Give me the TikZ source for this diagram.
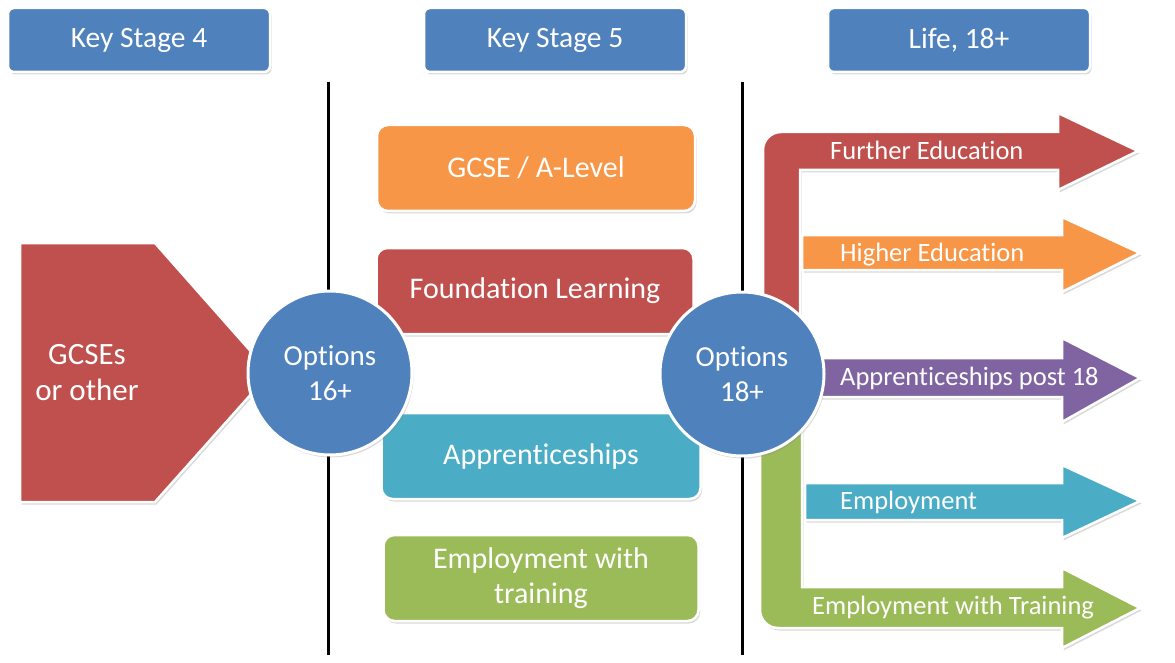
\documentclass[tikz,border=0pt]{standalone}
\usepackage{fontspec}
\setmainfont{Carlito}[Ligatures=NoCommon]
\usetikzlibrary{shadows,positioning}
\definecolor{ksblue}{HTML}{4F81BD}
\definecolor{ksred}{HTML}{C0504D}
\definecolor{ksorange}{HTML}{F79646}
\definecolor{ksteal}{HTML}{4BACC6}
\definecolor{ksgreen}{HTML}{9BBB59}
\definecolor{kspurple}{HTML}{8064A2}

\begin{document}
\begin{tikzpicture}[x=1pt, y=-1pt,
        every node/.style={text=white, font=\fontsize{30}{35}\selectfont},
        schatten/.style={drop shadow={shadow xshift=1.5pt, shadow yshift=-2.5pt, opacity=0.3}},
        stagebox/.style={rectangle, rounded corners=6pt, fill=ksblue, draw=white, line width=2.5pt,
          minimum width=262, minimum height=64, schatten, font=\fontsize{29.5}{33}\selectfont},
        optbox/.style={rectangle, rounded corners=11pt, draw=white, line width=2.5pt,
          minimum height=86, schatten, align=center},
        hub/.style={circle, fill=ksblue, draw=white, line width=3pt, minimum size=164,
          inner sep=0pt, schatten, align=center, font=\fontsize{29}{35}\selectfont},
        band/.style={draw=white, line width=2.5pt, schatten},
        blabel/.style={anchor=west, inner sep=0pt, text height=18pt, text depth=5pt,
          font=\fontsize{26.5}{30}\selectfont},
        trenner/.style={line width=3pt, black}
      ]
        \useasboundingbox (0,0) rectangle (1175,663);

        % Trennlinien
        \coordinate (t1o) at (328,82);  \coordinate (t1u) at (328,655);
        \coordinate (t2o) at (742,82);  \coordinate (t2u) at (742,655);
        \draw[trenner] (t1o) -- (t1u);
        \draw[trenner] (t2o) -- (t2u);

        % Kopfzeilen
        \node[stagebox] (ks4)  at (139,40) {Key Stage 4};
        \node[stagebox] (ks5)  at (555,40) {Key Stage 5};
        \node[stagebox] (life) at (959,40) {Life, 18+};

        % Wege ab 16
        \node[optbox, fill=ksorange, minimum width=318] (alevel) at (536,168) {GCSE / A-Level};
        \node[optbox, fill=ksred,    minimum width=317] (found)  at (535,291) {Foundation Learning};
        \node[optbox, fill=ksteal,   minimum width=319] (appr)   at (541,456) {Apprenticeships};
        \node[optbox, fill=ksgreen,  minimum width=315] (empl)   at (541,578) {Employment with\\training};

        % Fuenfeck links
        \filldraw[band, fill=ksred] (20,243) -- (155,243) -- (270,373) -- (155,502) -- (20,502) -- cycle;
        \node[align=center, font=\fontsize{31}{36}\selectfont] (gcses) at (87,373) {GCSEs\\or other};

        % Pfeile rechts: gebogen (oben rot, unten gruen)
        \filldraw[band, fill=ksred] (763,373) -- (763,150) arc[start angle=180, end angle=270, radius=18]
          -- (1058,132) -- (1058,113) -- (1138,151) -- (1058,190) -- (1058,170) -- (800,170) -- (800,373) -- cycle;
        \filldraw[band, fill=ksgreen] (760,373) -- (760,610) arc[start angle=180, end angle=90, radius=18]
          -- (1062,628) -- (1062,648) -- (1140,608) -- (1062,568) -- (1062,587) -- (802,587) -- (802,373) -- cycle;

        % Pfeile rechts: gerade
        \filldraw[band, fill=ksorange] (802,235) -- (1062,235) -- (1062,217) -- (1140,253) -- (1062,292) -- (1062,270) -- (802,270) -- cycle;
        \filldraw[band, fill=kspurple] (790,358) -- (1062,358) -- (1062,338) -- (1140,378) -- (1062,422) -- (1062,397) -- (790,397) -- cycle;
        \filldraw[band, fill=ksteal]   (805,483) -- (1062,483) -- (1062,465) -- (1140,501) -- (1062,538) -- (1062,520) -- (805,520) -- cycle;

        % Beschriftung
        \node[blabel] (fe)  at (830,153) {Further Education};
        \node[blabel] (he)  at (840,255) {Higher Education};
        \node[blabel] (ap)  at (840,379) {Apprenticeships post 18};
        \node[blabel] (em)  at (840,503) {Employment};
        \node[blabel] (ewt) at (812,608) {Employment with Training};

        % Knotenpunkte
        \node[hub] (opt16) at (330,373) {Options\\16+};
        \node[hub] (opt18) at (742,374) {Options\\18+};
      \end{tikzpicture}
\end{document}
